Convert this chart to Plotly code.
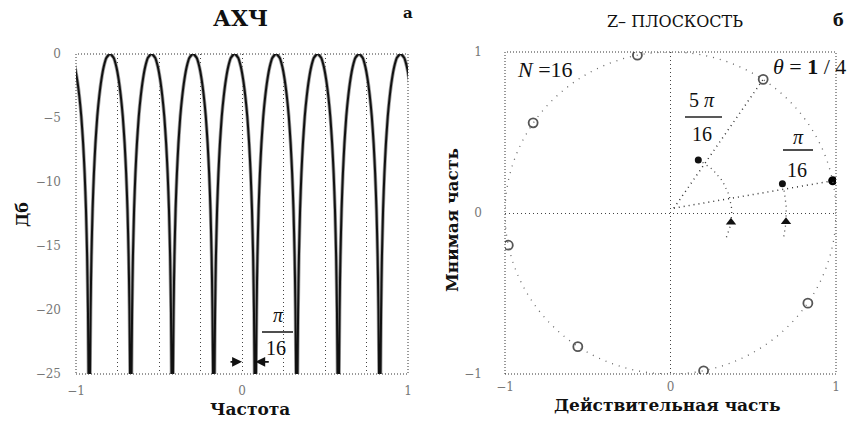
import math
import plotly.graph_objects as go

W, H = 862, 421

# ---------------- left panel: АЧХ (magnitude response, dB) ----------------
# peak positions of the comb lobes (normalised frequency, units of pi)
PEAK_FREQ = [-1.045, -0.795, -0.545, -0.295, -0.045, 0.205, 0.455, 0.705, 0.955]
# one lobe: offset from its peak and level in dB
LOBE_OFFSET = [-0.125, -0.121, -0.117, -0.112, -0.105, -0.097, -0.088, -0.077, -0.065,
               -0.052, -0.038, -0.022, 0.0, 0.022, 0.038, 0.052, 0.065, 0.077, 0.088,
               0.097, 0.105, 0.112, 0.117, 0.121, 0.125]
LOBE_DB = [-40, -26, -20, -15.8, -12.1, -9.3, -7.0, -4.9, -3.3, -2.0, -1.0, -0.3, 0.0,
           -0.3, -1.0, -2.0, -3.3, -4.9, -7.0, -9.3, -12.1, -15.8, -20, -26, -40]
LEFT_YTICKS = [0, -5, -10, -15, -20, -25]
LEFT_XTICKS = [-1, 0, 1]

# ---------------- right panel: z-plane ----------------
ZERO_RE = [0.56, -0.20, -0.83, -0.98, -0.56, 0.20, 0.83]
ZERO_IM = [0.83, 0.98, 0.56, -0.20, -0.83, -0.98, -0.56]
DOT_RE = [0.98]
DOT_IM = [0.20]
RAY_START = (0.02, 0.03)
RAY_END_RE = [0.56, 0.98]
RAY_END_IM = [0.83, 0.20]
ARC_RADIUS = [0.37, 0.70]
ARC_FROM_DEG = [-24, -12]
ARC_TAIL_DEG = [-9, -4.5]
ARC_TO_DEG = [63, 15]
RIGHT_TICKS = [-1, 0, 1]

SERIF = "DejaVu Serif"
TIMES = "Liberation Serif"
DOTS = "1px,3px"

freq, level = [], []
for p in PEAK_FREQ:
    for d, v in zip(LOBE_OFFSET, LOBE_DB):
        freq.append(p + d)
        level.append(v)

fig = go.Figure()

# left curve: grey halo + black core
fig.add_trace(go.Scatter(x=freq, y=level, mode="lines", xaxis="x", yaxis="y",
                         line=dict(color="#a0a0a0", width=3.6, shape="spline", smoothing=0.6),
                         hoverinfo="skip", showlegend=False))
fig.add_trace(go.Scatter(x=freq, y=level, mode="lines", xaxis="x", yaxis="y",
                         line=dict(color="#111111", width=2.0, shape="spline", smoothing=0.6),
                         showlegend=False))

# right: rays from origin
for ex, ey in zip(RAY_END_RE, RAY_END_IM):
    fig.add_trace(go.Scatter(x=[RAY_START[0], ex], y=[RAY_START[1], ey], mode="lines",
                             xaxis="x2", yaxis="y2",
                             line=dict(color="#333333", width=1.5, dash="1px,4px"),
                             hoverinfo="skip", showlegend=False))

# right: angle arcs with tail triangle and head dot
for r, a0, at, a1 in zip(ARC_RADIUS, ARC_FROM_DEG, ARC_TAIL_DEG, ARC_TO_DEG):
    n = 24
    angs = [math.radians(a0 + (a1 - a0) * i / n) for i in range(n + 1)]
    fig.add_trace(go.Scatter(x=[r * math.cos(a) for a in angs], y=[r * math.sin(a) for a in angs],
                             mode="lines", xaxis="x2", yaxis="y2",
                             line=dict(color="#444444", width=1.3, dash="1px,4px"),
                             hoverinfo="skip", showlegend=False))
    fig.add_trace(go.Scatter(x=[r * math.cos(math.radians(at))], y=[r * math.sin(math.radians(at))],
                             mode="markers", xaxis="x2", yaxis="y2",
                             marker=dict(symbol="triangle-up", size=9, color="#111111"),
                             hoverinfo="skip", showlegend=False))
    fig.add_trace(go.Scatter(x=[r * math.cos(math.radians(a1))], y=[r * math.sin(math.radians(a1))],
                             mode="markers", xaxis="x2", yaxis="y2",
                             marker=dict(symbol="circle", size=7, color="#111111"),
                             hoverinfo="skip", showlegend=False))

# zeros (open circles) and the filled point
fig.add_trace(go.Scatter(x=ZERO_RE, y=ZERO_IM, mode="markers", xaxis="x2", yaxis="y2",
                         marker=dict(symbol="circle-open", size=9, color="#555555", line=dict(width=1.8)),
                         showlegend=False))
fig.add_trace(go.Scatter(x=DOT_RE, y=DOT_IM, mode="markers", xaxis="x2", yaxis="y2",
                         marker=dict(symbol="circle", size=9, color="#000000"),
                         showlegend=False))

ydom = [1 - 374 / H, 1 - 54 / H]
ydom2 = [1 - 374 / H, 1 - 52 / H]
tickfont = dict(family=SERIF, size=12, color="#777777")

fig.update_layout(
    width=W, height=H, margin=dict(l=0, r=0, t=0, b=0, pad=0, autoexpand=False),
    paper_bgcolor="white", plot_bgcolor="white", showlegend=False,
    xaxis=dict(domain=[76 / W, 408 / W], range=[-1, 1], tickvals=LEFT_XTICKS, automargin=False,
               showgrid=True, griddash=DOTS, gridcolor="#444444", gridwidth=1,
               minor=dict(dtick=0.25, tick0=0, showgrid=True, griddash=DOTS,
                          gridcolor="#444444", gridwidth=1),
               zeroline=False, showline=False, ticks="", tickfont=tickfont,
               ticklabelstandoff=8),
    yaxis=dict(domain=ydom, range=[-25, 0], tickvals=LEFT_YTICKS, showgrid=False, automargin=False,
               zeroline=False, showline=False, ticks="", tickfont=tickfont,
               ticklabelstandoff=14),
    xaxis2=dict(domain=[505 / W, 836 / W], range=[-1, 1], tickvals=RIGHT_TICKS, anchor="y2",
                showgrid=True, griddash=DOTS, gridcolor="#444444", gridwidth=1, automargin=False,
                zeroline=False, showline=False, ticks="", tickfont=tickfont,
                ticklabelstandoff=4),
    yaxis2=dict(domain=ydom2, range=[-1, 1], tickvals=RIGHT_TICKS, anchor="x2",
                showgrid=True, griddash=DOTS, gridcolor="#444444", gridwidth=1, automargin=False,
                zeroline=False, showline=False, ticks="", tickfont=tickfont,
                ticklabelstandoff=22),
)

shapes = []
for xr, yr in (("x", "y"), ("x2", "y2")):
    shapes.append(dict(type="rect", xref=xr + " domain", yref=yr + " domain", x0=0, x1=1, y0=0, y1=1,
                       line=dict(color="#333333", width=1, dash="1px,2px"), layer="above"))
shapes.append(dict(type="circle", xref="x2", yref="y2", x0=-1, y0=-1, x1=1, y1=1,
                   line=dict(color="#666666", width=1.3, dash="1px,6px")))


def px(x, y):
    return x / W, 1 - y / H


def hline(x0, x1, y, width=1.6):
    a = px(x0, y)
    b = px(x1, y)
    shapes.append(dict(type="line", xref="paper", yref="paper", x0=a[0], x1=b[0], y0=a[1], y1=b[1],
                       line=dict(color="#222222", width=width)))


hline(262, 293, 332)
hline(685, 722, 117)
hline(783, 813, 150)
fig.update_layout(shapes=shapes)

ann = []


def text(x, y, s, size, family=SERIF, bold=False, angle=0, color="#111111", xanchor="center"):
    p = px(x, y)
    ann.append(dict(x=p[0], y=p[1], xref="paper", yref="paper", text=("<b>%s</b>" % s) if bold else s,
                    showarrow=False, xanchor=xanchor, yanchor="middle", textangle=angle,
                    font=dict(family=family, size=size, color=color)))


text(240, 18, "АХЧ", 22, bold=True)
text(408, 13, "а", 15, bold=True)
text(675, 22, "Z– ПЛОСКОСТЬ", 16, color="#111111")
text(838, 20, "б", 16, bold=True)
text(250, 409, "Частота", 17, bold=True)
text(22, 215, "Дб", 16, bold=True, angle=-90)
text(667, 405, "Действительная часть", 17, bold=True)
text(452, 220, "Мнимая часть", 17, bold=True, angle=-90)

text(278, 315, "<i>π</i>", 20, family=TIMES)
text(276, 348, "16", 20, family=TIMES)
text(545, 69, "<i>N</i> =16", 22, family=TIMES)
text(771, 67, "<i>θ</i> = <b>1</b> / 4", 22, family=TIMES, xanchor="left")
text(702, 100, "5 <i>π</i>", 20, family=TIMES)
text(702, 134, "16", 20, family=TIMES)
text(798, 137, "<i>π</i>", 20, family=TIMES)
text(797, 170, "16", 20, family=TIMES)

# π/16 arrows on the frequency axis
for tip, off in ((0.0, -13), (0.08, 15)):
    ann.append(dict(x=tip, y=-24.05, xref="x", yref="y", ax=off, ay=0, text="", showarrow=True,
                    arrowhead=2, arrowsize=1.1, arrowwidth=1.8, arrowcolor="#111111", standoff=0))

fig.update_layout(annotations=ann)
fig.write_html("out.html", config={"displayModeBar": False},
               post_script="document.body.style.margin='0';document.body.style.overflow='hidden';")
